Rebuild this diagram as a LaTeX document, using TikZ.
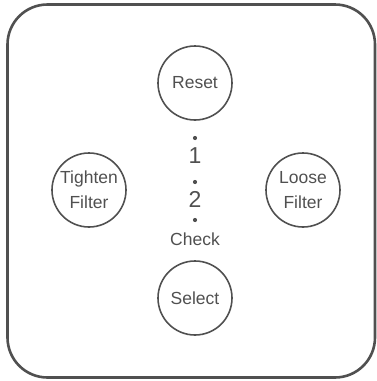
\documentclass[tikz,border=0pt]{standalone}
\usepackage{fontspec}
\setmainfont{Liberation Sans}
\usetikzlibrary{positioning}
\definecolor{ink}{HTML}{505050}

\begin{document}
\begin{tikzpicture}[x=1pt,y=-1pt,semithick,
  btn/.style={draw=ink,line width=1.6pt,circle,minimum size=74pt,inner sep=0pt,
    text=ink,font=\fontsize{17.5}{25}\selectfont,align=center},
  pip/.style={circle,fill=ink,inner sep=0pt,minimum size=4.2pt},
  num/.style={text=ink,font=\fontsize{23}{24}\selectfont,inner sep=0pt}]
\useasboundingbox (0,0) rectangle (377,381);
\draw[ink,line width=2.6pt,rounded corners=40pt] (7.5,4.5) rectangle (375,377.5);

\node[btn] (reset) at (195,83) {Reset};
\node[btn] (tighten) at (89,190) {Tighten\\Filter};
\node[btn] (loose) at (303,190) {Loose\\Filter};
\node[btn] (select) at (195,298) {Select};

\node[pip] (p1) at (195,138) {};
\node[pip] (p2) at (195,182) {};
\node[pip] (p3) at (195,220) {};
\node[num] (one) at (195,156) {1};
\node[num] (two) at (195,199) {2};
\node[text=ink,font=\fontsize{17.5}{19}\selectfont,inner sep=0pt] (check) at (195,239) {Check};
\end{tikzpicture}
\end{document}
